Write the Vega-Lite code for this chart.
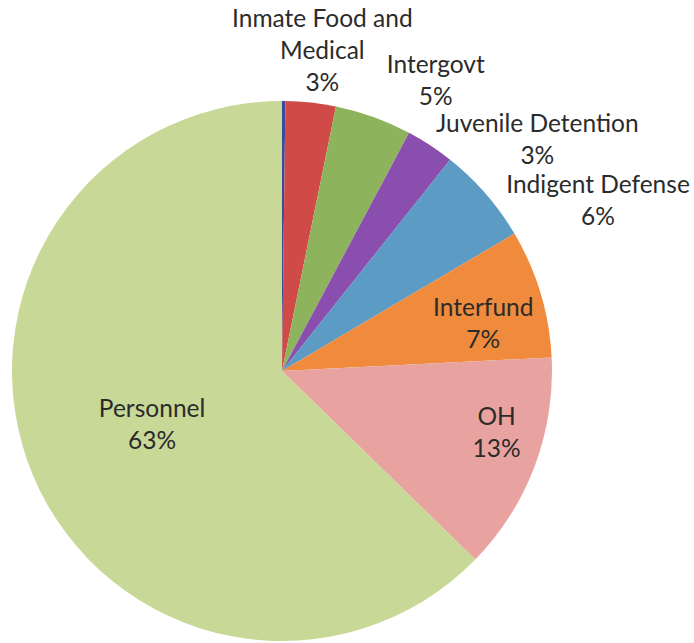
{
  "$schema": "https://vega.github.io/schema/vega-lite/v6.json",
  "autosize": "none",
  "width": 540,
  "height": 540,
  "padding": {"left": 12, "top": 101, "right": 142, "bottom": 2},
  "background": "white",
  "config": {"view": {"stroke": null}, "text": {"font": "Lato", "fontSize": 24.5, "color": "#2b2b2b", "lineBreak": "\n", "lineHeight": 32}},
  "data": {"values": [
    {"idx": 0, "category": "Other", "value": 0.2, "label": ""},
    {"idx": 1, "category": "Inmate Food and Medical", "value": 3.0, "label": "Inmate Food and\nMedical\n3%"},
    {"idx": 2, "category": "Intergovt", "value": 4.6, "label": "Intergovt\n5%"},
    {"idx": 3, "category": "Juvenile Detention", "value": 2.9, "label": "Juvenile Detention\n3%"},
    {"idx": 4, "category": "Indigent Defense", "value": 5.8, "label": "Indigent Defense\n6%"},
    {"idx": 5, "category": "Interfund", "value": 7.7, "label": "Interfund\n7%"},
    {"idx": 6, "category": "OH", "value": 13.1, "label": "OH\n13%"},
    {"idx": 7, "category": "Personnel", "value": 62.7, "label": "Personnel\n63%"}
  ]},
  "encoding": {
    "theta": {"field": "value", "type": "quantitative", "stack": true},
    "order": {"field": "idx", "type": "quantitative"}
  },
  "layer": [
    {
      "mark": {"type": "arc"},
      "encoding": {
        "color": {
          "field": "category", "type": "nominal", "legend": null,
          "scale": {
            "domain": ["Other", "Inmate Food and Medical", "Intergovt", "Juvenile Detention", "Indigent Defense", "Interfund", "OH", "Personnel"],
            "range": ["#3b4a9a", "#d04a48", "#8db35c", "#8a4fae", "#5b9bc4", "#f08a3c", "#e8a3a1", "#c8d897"]
          }
        }
      }
    },
    {"mark": {"type": "text", "radius": 322, "dx": 6, "dy": -31},
     "encoding": {"text": {"condition": {"test": "datum.idx === 1", "field": "label"}, "value": ""}}},
    {"mark": {"type": "text", "radius": 327, "dx": 43, "dy": 3},
     "encoding": {"text": {"condition": {"test": "datum.idx === 2", "field": "label"}, "value": ""}}},
    {"mark": {"type": "text", "radius": 343, "dx": 67, "dy": 41},
     "encoding": {"text": {"condition": {"test": "datum.idx === 3", "field": "label"}, "value": ""}}},
    {"mark": {"type": "text", "radius": 358, "dx": 46, "dy": 50},
     "encoding": {"text": {"condition": {"test": "datum.idx === 4", "field": "label"}, "value": ""}}},
    {"mark": {"type": "text", "radius": 206, "dx": 4, "dy": -3},
     "encoding": {"text": {"condition": {"test": "datum.idx === 5", "field": "label"}, "value": ""}}},
    {"mark": {"type": "text", "radius": 224, "dx": 5, "dy": -32},
     "encoding": {"text": {"condition": {"test": "datum.idx === 6", "field": "label"}, "value": ""}}},
    {"mark": {"type": "text", "radius": 141, "dy": -16},
     "encoding": {"text": {"condition": {"test": "datum.idx === 7", "field": "label"}, "value": ""}}}
  ]
}
